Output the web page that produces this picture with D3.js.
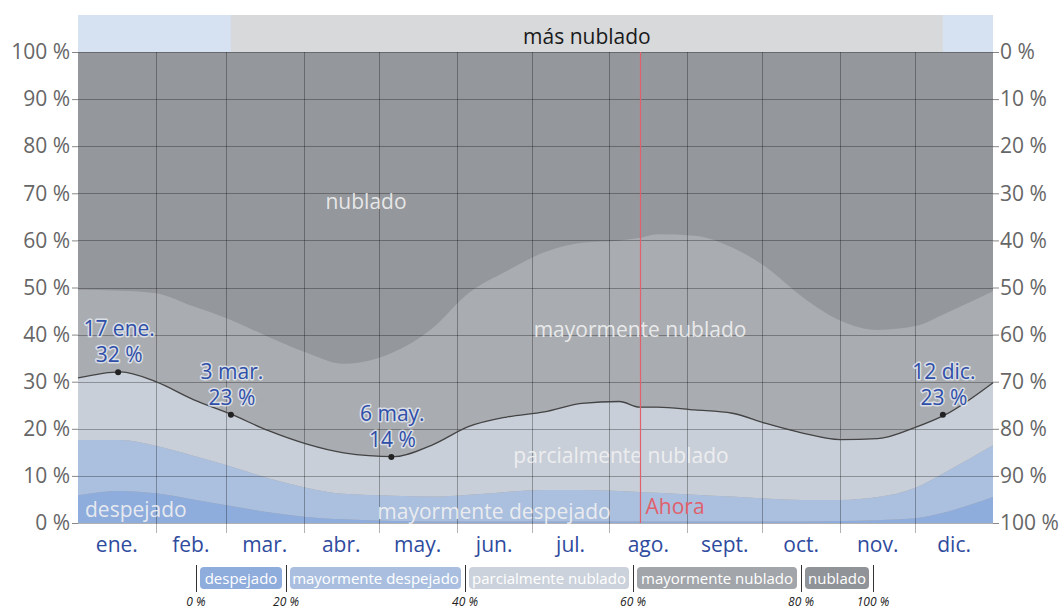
<!DOCTYPE html>
<meta charset="utf-8">
<script src="https://cdn.jsdelivr.net/npm/d3@7"></script>
<html>
<head>
<style>
body { margin: 0; background: #fff; }
text { font-family: "Open Sans", "Noto Sans", sans-serif; }
</style>
</head>
<body>
<div id="chart"></div>
<script>

// dias del año (0 = 1 ene) en que se leyeron los valores
var dias = [0,17,31,46,61,76,91,106,126,141,156,171,186,201,216,224,231,246,261,274,289,304,319,334,346,365];

// porcentaje del tiempo en cada categoria
var despejado   = [5.9,6.8,6.3,5.0,3.6,2.3,1.3,0.8,0.4,0.3,0.3,0.3,0.3,0.3,0.3,0.3,0.3,0.3,0.3,0.3,0.3,0.4,0.6,1.0,2.3,5.5];
var mayDesp     = [11.7,10.8,10.1,9.3,8.4,7.2,6.2,5.4,5.4,5.3,5.7,6.3,6.7,6.7,6.5,6.3,6.1,5.7,5.3,4.9,4.6,4.5,4.9,6.5,8.5,11.0];
var parcial     = [13.2,14.5,13.6,11.9,11.1,10.1,9.3,8.7,8.3,10.9,14.5,15.9,16.6,18.4,19.0,18.0,18.2,18.0,17.7,16.0,14.2,12.8,12.4,12.8,12.2,13.3];
var mayNublado  = [18.7,17.2,18.8,19.8,20.0,19.9,19.4,18.9,22.2,24.7,28.4,31.0,33.9,34.1,34.2,35.9,36.7,37.0,35.2,33.3,28.9,25.3,23.1,21.5,21.5,19.4];
var nublado     = [50.5,50.7,51.2,54.0,56.9,60.5,63.8,66.2,63.7,58.8,51.1,46.5,42.5,40.5,40.0,39.5,38.7,39.0,41.5,45.5,52.0,57.0,59.0,58.2,55.5,50.8];

var meses = ["ene.","feb.","mar.","abr.","may.","jun.","jul.","ago.","sept.","oct.","nov.","dic."];
var inicioMes = [0,31,59,90,120,151,181,212,243,273,304,334,365];

// temporada mas nublada
var temporada = [61, 345];
var hoy = 224;

// puntos marcados
var marcasDia = [16, 61, 125, 345];
var marcasFecha = ["17 ene.", "3 mar.", "6 may.", "12 dic."];
var marcasValor = [32, 23, 14, 23];

var yTicks = [0,10,20,30,40,50,60,70,80,90,100];
var leyendaTicks = ["0 %","20 %","40 %","60 %","80 %","100 %"];

var claves = ["despejado","mayDesp","parcial","mayNublado","nublado"];
var nombres = ["despejado","mayormente despejado","parcialmente nublado","mayormente nublado","nublado"];
var colores = ["#8eacdc","#abbfde","#c9cfd9","#a9acb1","#94979c"];
var coloresLeyenda = ["#8eacdc","#aabfe0","#ccd2db","#a2a5aa","#909398"];

var W = 1062, H = 608;
var pLeft = 78, pRight = 993, pTop = 52, pBottom = 523;
var fs = 21;

var svg = d3.select("#chart").append("svg")
  .attr("width", W).attr("height", H);

var x = d3.scaleLinear().domain([0,365]).range([pLeft, pRight]);
var y = d3.scaleLinear().domain([0,100]).range([pBottom, pTop]);

var filas = dias.map(function(d, i) {
  return {dia: d, despejado: despejado[i], mayDesp: mayDesp[i], parcial: parcial[i],
          mayNublado: mayNublado[i], nublado: nublado[i]};
});
var capas = d3.stack().keys(claves)(filas);

var area = d3.area()
  .x(function(d) { return x(d.data.dia); })
  .y0(function(d) { return y(d[0]); })
  .y1(function(d) { return y(Math.min(100, d[1])); })
  .curve(d3.curveMonotoneX);

// fondo nublado completo
svg.append("rect").attr("x", pLeft).attr("y", pTop)
  .attr("width", pRight-pLeft).attr("height", pBottom-pTop).attr("fill", colores[4]);

svg.selectAll(".capa").data(capas.slice(0, 4)).enter().append("path")
  .attr("class", "capa")
  .attr("fill", function(d, i) { return colores[i]; })
  .attr("d", area);

// banda superior
svg.append("rect").attr("x", pLeft).attr("y", 15).attr("width", pRight-pLeft).attr("height", pTop-15)
  .attr("fill", "#d6e1f2");
svg.append("rect").attr("x", x(temporada[0])).attr("y", 15)
  .attr("width", x(temporada[1]) - x(temporada[0])).attr("height", pTop-15)
  .attr("fill", "#d8d9db");
svg.append("text").attr("x", (x(temporada[0]) + x(temporada[1]))/2).attr("y", 36)
  .attr("text-anchor", "middle").attr("dominant-baseline", "central")
  .attr("font-size", fs).attr("fill", "#1a1a1a").text("más nublado");

// rejilla
var rejilla = svg.append("g").attr("stroke", "#000").attr("stroke-opacity", 0.3).attr("stroke-width", 1);
yTicks.forEach(function(t) {
  rejilla.append("line").attr("x1", pLeft).attr("x2", pRight)
    .attr("y1", Math.round(y(t))+0.5).attr("y2", Math.round(y(t))+0.5);
});
inicioMes.slice(1, 12).forEach(function(d) {
  rejilla.append("line").attr("x1", Math.round(x(d))+0.5).attr("x2", Math.round(x(d))+0.5)
    .attr("y1", pTop).attr("y2", pBottom + 10);
});

// ejes
var ejeIzq = d3.axisLeft(y).tickValues(yTicks).tickSize(6).tickFormat(function(d) { return d + " %"; });
var gIzq = svg.append("g").attr("transform", "translate(" + pLeft + ",0)").call(ejeIzq);
var ejeDer = d3.axisRight(y).tickValues(yTicks).tickSize(6).tickFormat(function(d) { return (100 - d) + " %"; });
var gDer = svg.append("g").attr("transform", "translate(" + pRight + ",0)").call(ejeDer);
[gIzq, gDer].forEach(function(g) {
  g.select(".domain").remove();
  g.selectAll("line").attr("stroke", "#888");
  g.selectAll("text").attr("font-size", fs).attr("fill", "#666")
    .style("font-family", "'Open Sans', 'Noto Sans', sans-serif");
});
gIzq.selectAll("text").attr("x", -8);
gDer.selectAll("text").attr("x", 7);

// linea de la frontera parcialmente / mayormente nublado
var linea = d3.line()
  .x(function(d) { return x(d.data.dia); })
  .y(function(d) { return y(d[1]); })
  .curve(d3.curveMonotoneX);
svg.append("path").datum(capas[2]).attr("d", linea)
  .attr("fill", "none").attr("stroke", "#444").attr("stroke-width", 1.3);

// etiquetas de region
var etiquetas = [
  {t: "nublado", x: 366, y: 201, a: "middle"},
  {t: "mayormente nublado", x: 640, y: 329, a: "middle"},
  {t: "parcialmente nublado", x: 621, y: 455, a: "middle"},
  {t: "mayormente despejado", x: 494, y: 511, a: "middle"},
  {t: "despejado", x: 85, y: 509, a: "start"}
];
svg.selectAll(".etq").data(etiquetas).enter().append("text")
  .attr("x", function(d) { return d.x; }).attr("y", function(d) { return d.y; })
  .attr("text-anchor", function(d) { return d.a; }).attr("dominant-baseline", "central")
  .attr("font-size", fs).attr("fill", "#f2f2f2").attr("fill-opacity", 0.9)
  .text(function(d) { return d.t; });

// ahora
svg.append("line").attr("x1", Math.round(x(hoy))+0.5).attr("x2", Math.round(x(hoy))+0.5)
  .attr("y1", pTop).attr("y2", pBottom).attr("stroke", "#e0606c").attr("stroke-width", 1.2);
svg.append("text").attr("x", x(hoy) + 6).attr("y", 506).attr("dominant-baseline", "central")
  .attr("font-size", fs).attr("fill", "#e0606c").text("Ahora");

// marcas
marcasDia.forEach(function(d, i) {
  var px = x(d), py = y(marcasValor[i]);
  svg.append("circle").attr("cx", px).attr("cy", py).attr("r", 3).attr("fill", "#222");
  [marcasFecha[i], marcasValor[i] + " %"].forEach(function(t, j) {
    svg.append("text").attr("x", px + 1).attr("y", py - 44 + j*26)
      .attr("text-anchor", "middle").attr("dominant-baseline", "central")
      .attr("font-size", fs).attr("fill", "#2f4fa8")
      .attr("stroke", "#e8ecf4").attr("stroke-opacity", 0.8).attr("stroke-width", 3)
      .attr("paint-order", "stroke").attr("stroke-linejoin", "round")
      .text(t);
  });
});

// meses
meses.forEach(function(m, i) {
  svg.append("text").attr("x", x((inicioMes[i] + inicioMes[i+1]) / 2)).attr("y", 544)
    .attr("text-anchor", "middle").attr("dominant-baseline", "central")
    .attr("font-size", fs).attr("fill", "#2f4b9e").text(m);
});

// leyenda
var sep = [196, 286, 465, 633, 801, 873];
var leg = svg.append("g");
sep.forEach(function(s, i) {
  leg.append("line").attr("x1", s+0.5).attr("x2", s+0.5).attr("y1", 565).attr("y2", 592)
    .attr("stroke", "#333").attr("stroke-width", 1);
  leg.append("text").attr("x", s).attr("y", 601).attr("text-anchor", "middle")
    .attr("dominant-baseline", "central").attr("font-size", 12).attr("font-style", "italic")
    .attr("fill", "#222").text(leyendaTicks[i]);
});
nombres.forEach(function(n, i) {
  var x0 = sep[i] + 4, x1 = sep[i+1] - 4;
  leg.append("rect").attr("x", x0).attr("y", 567).attr("width", x1 - x0).attr("height", 22)
    .attr("rx", 4).attr("fill", coloresLeyenda[i]);
  leg.append("text").attr("x", (x0 + x1)/2).attr("y", 578).attr("text-anchor", "middle")
    .attr("dominant-baseline", "central").attr("font-size", 15).attr("fill", "#fff").text(n);
});

</script>
</body>
</html>
